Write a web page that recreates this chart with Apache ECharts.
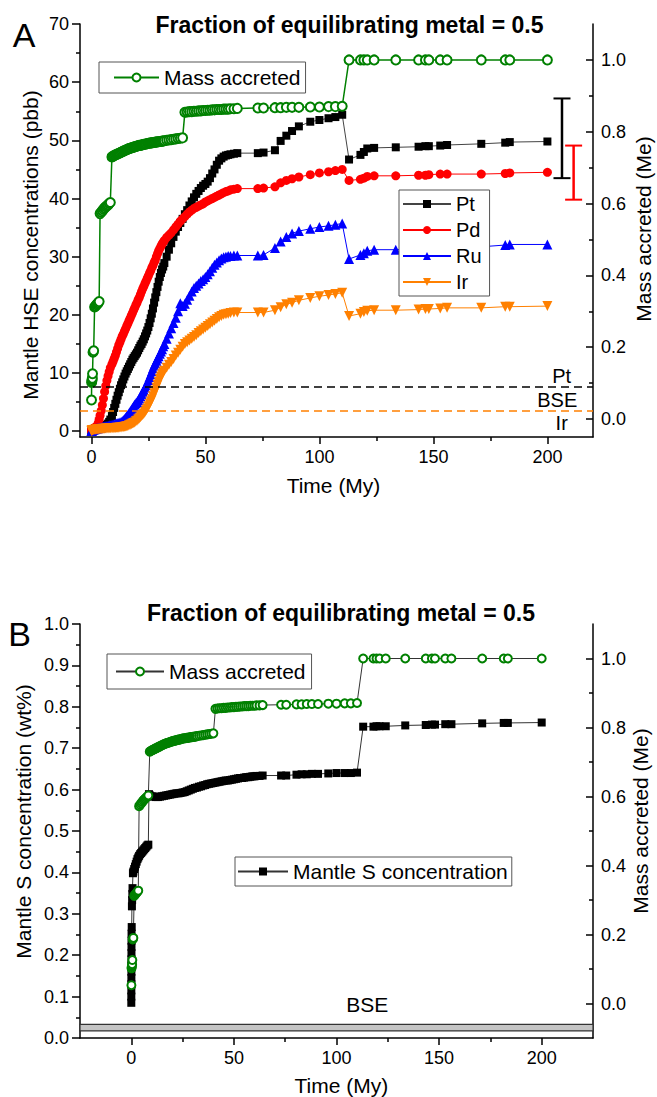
<!DOCTYPE html>
<html><head><meta charset="utf-8">
<script src="https://cdn.jsdelivr.net/npm/echarts@6/dist/echarts.min.js"></script>
<style>html,body{margin:0;padding:0;background:#fff}#c{width:657px;height:1097px}</style>
</head><body><div id="c"></div>
<script>
// ---------- DATA ----------
// Shared time steps of the accretion model (My)
const time = [
 0.05,0.1,0.2,0.3,0.4,0.5,0.7,1.0,1.4,1.8,2.2,2.6,3.0,3.4,
 3.8,4.3,4.8,5.3,5.8,6.3,6.8,7.3,7.8,8.3,
 9,9.5,10,10.5,11,11.5,12,12.5,13,13.5,14,14.5,15,15.5,16,16.5,17,17.5,18,18.5,19,19.5,20,20.5,21,21.5,22,22.5,23,23.5,24,24.5,25,25.5,26,26.5,27,27.5,28,28.5,29,29.5,30,30.5,31,31.5,32,
 33,34,35,36,37,38,39,40,41,42,43,44,45,46,47,48,49,50,51,52,53,54,55,56,57,58,59,60,61,62.5,64,
 73,75.5,80.5,83,85.5,88,91,96,100,104,107,110,
 113,118,119.5,121,124,133.5,143.5,146.5,148,153,156,171,181.5,183.5,200
];
// Mass accreted (Me)
const massAccreted = [
 0.053,0.102,0.106,0.110,0.114,0.126,0.186,0.190,0.312,0.315,0.318,0.321,0.324,0.327,
 0.572,0.576,0.580,0.584,0.588,0.591,0.594,0.597,0.600,0.603,
 0.730,0.732,0.734,0.735,0.737,0.738,0.740,0.741,0.743,0.744,0.746,0.747,0.749,0.750,0.752,0.753,0.754,0.755,0.756,0.757,0.758,0.759,0.760,0.761,0.762,0.762,0.763,0.764,0.765,0.765,0.766,0.767,0.768,0.768,0.769,0.769,0.770,0.770,0.771,0.771,0.772,0.772,0.773,0.773,0.774,0.774,0.775,
 0.776,0.777,0.778,0.779,0.780,0.781,0.782,0.783,0.854,0.855,0.856,0.856,0.857,0.857,0.858,0.858,0.859,0.859,0.860,0.860,0.861,0.861,0.862,0.862,0.862,0.863,0.863,0.863,0.864,0.864,0.865,
 0.866,0.866,0.867,0.867,0.868,0.868,0.868,0.869,0.869,0.870,0.870,0.871,
 1.0,1.0,1.0,1.0,1.0,1.0,1.0,1.0,1.0,1.0,1.0,1.0,1.0,1.0,1.0
];
// Mantle HSE concentrations (ppb)
const pt = [
 0.1,0.15,0.2,0.2,0.25,0.3,0.3,0.35,0.4,0.45,0.5,0.5,0.55,0.6,
 0.7,0.75,0.8,0.85,0.9,1.0,1.1,1.3,1.6,2.0,
 2.6,3.3,4.0,4.7,5.4,6.1,6.7,7.3,7.9,8.4,8.9,9.4,9.9,10.3,10.7,11.1,11.5,11.9,12.3,12.6,12.9,13.2,13.5,13.9,14.3,14.7,15.0,15.4,15.8,16.3,16.8,17.3,17.9,18.6,19.4,20.2,21.1,22.1,23.0,23.9,24.8,25.7,26.5,27.2,27.8,28.3,28.9,
 30.0,31.2,32.3,33.4,34.3,35.1,35.8,36.5,37.3,38.0,38.8,39.5,40.2,40.8,41.3,41.8,42.2,42.5,42.9,43.5,44.3,45.0,45.8,46.5,46.9,47.2,47.4,47.5,47.6,47.7,47.8,
 47.8,47.9,48.3,49.9,50.8,51.6,52.4,53.2,53.5,53.8,54.0,54.4,
 46.7,47.5,48.0,48.6,48.7,48.8,48.9,49.0,49.0,49.1,49.2,49.4,49.6,49.7,49.8
];
const pd = [
 0.1,0.15,0.2,0.25,0.3,0.35,0.4,0.5,0.6,0.7,0.8,1.0,1.4,2.0,
 2.7,3.5,4.5,5.6,6.8,7.8,8.7,9.5,10.2,10.9,
 11.5,12.0,12.5,13.0,13.6,14.2,14.8,15.3,15.8,16.3,16.7,17.2,17.6,18.1,18.5,19.0,19.4,19.9,20.3,20.8,21.2,21.7,22.1,22.6,23.0,23.5,24.0,24.5,24.9,25.4,25.8,26.3,26.7,27.2,27.6,28.1,28.5,29.0,29.4,30.0,30.5,31.0,31.4,31.8,32.2,32.5,32.8,
 33.3,33.7,34.1,34.6,35.1,35.6,36.1,36.5,36.9,37.3,37.7,38.0,38.3,38.5,38.7,38.9,39.1,39.4,39.6,39.8,40.0,40.2,40.4,40.6,40.8,41.0,41.2,41.3,41.5,41.6,41.7,
 41.7,41.8,42.0,42.7,43.1,43.4,43.7,44.1,44.4,44.6,44.8,45.0,
 43.1,43.3,43.5,43.8,43.9,43.9,44.0,44.0,44.1,44.2,44.2,44.2,44.3,44.4,44.5
];
const ru = [
 0.05,0.1,0.1,0.15,0.2,0.2,0.25,0.3,0.35,0.4,0.45,0.5,0.5,0.55,
 0.6,0.65,0.7,0.75,0.8,0.85,0.9,0.95,1.0,1.0,
 1.1,1.15,1.2,1.25,1.3,1.35,1.4,1.5,1.6,1.7,1.9,2.1,2.3,2.6,2.8,3.1,3.4,3.7,4.0,4.3,4.6,4.8,5.0,5.3,5.6,6.0,6.4,6.8,7.1,7.5,7.9,8.3,8.8,9.3,9.8,10.3,10.8,11.3,11.7,12.1,12.5,12.9,13.3,13.7,14.1,14.6,15.0,
 15.9,16.8,17.7,18.6,19.5,20.6,22.0,21.5,21.9,22.6,23.3,24.0,24.6,25.0,25.4,25.8,26.1,26.5,27.0,27.5,28.1,28.6,29.0,29.4,29.7,29.9,30.0,30.1,30.1,30.2,30.2,
 30.2,30.3,31.5,32.6,33.4,34.0,34.4,34.8,35.1,35.3,35.5,35.7,
 29.6,30.3,30.6,31.0,31.2,31.2,31.3,31.3,31.4,31.5,31.6,31.7,32.0,32.1,32.1
];
const ir = [
 0.05,0.1,0.1,0.1,0.15,0.15,0.2,0.2,0.25,0.25,0.3,0.3,0.3,0.35,
 0.35,0.35,0.4,0.4,0.4,0.45,0.45,0.45,0.5,0.5,
 0.5,0.5,0.55,0.55,0.6,0.6,0.6,0.65,0.65,0.7,0.7,0.75,0.8,0.85,0.9,1.0,1.1,1.2,1.3,1.4,1.5,1.7,1.8,2.0,2.2,2.4,2.6,2.8,3.0,3.3,3.6,3.9,4.3,4.7,5.1,5.5,6.0,6.5,7.0,7.5,8.0,8.5,9.0,9.4,9.8,10.1,10.4,
 10.9,11.4,11.9,12.4,13.0,13.5,14.0,14.5,15.0,15.3,15.6,15.9,16.2,16.5,16.9,17.2,17.5,17.8,18.1,18.4,18.7,19.0,19.3,19.6,19.8,20.0,20.1,20.2,20.3,20.4,20.4,
 20.4,20.4,20.8,21.3,21.8,22.1,22.5,22.9,23.2,23.4,23.6,23.8,
 19.8,20.2,20.5,20.7,20.8,20.8,20.9,21.0,21.0,21.1,21.2,21.2,21.4,21.4,21.5
];
// BSE reference levels (ppb) and error bars
const bsePt = 7.7, bseIr = 3.5;
const errorBarTime = [206.4, 211.5];
const errorBarLow = [43.5, 39.8];
const errorBarHigh = [57.2, 49.1];

// Panel B: mantle S concentration (wt%)
const sTime = [
 0,0.01,0.02,0.03,0.04,0.05,0.06,0.07,0.08,0.09,0.1,0.12,0.2,
 0.3,0.4,0.5,0.6,
 0.8,1.0,1.4,1.8,2.2,2.6,3.0,3.4,3.8,4.3,4.8,5.3,5.8,6.3,6.8,7.3,7.8,8.3,
 8.6,
 9,10,11,12,13,14,15,16,17,18,19,20,21,22,23,24,25,26,27,28,29,30,31,32,33,34,35,36,37,38,39,40,
 41,42,43,44,45,46,47,48,49,50,51,52,53,54,55,56,57,58,59,60,61,62.5,64,
 73,75.5,80.5,83,85.5,88,91,96,100,104,107,110,
 113,118,119.5,121,124,133.5,143.5,146.5,148,153,156,171,181.5,183.5,200
];
const sConc = [
 0.085,0.100,0.115,0.130,0.145,0.160,0.175,0.190,0.205,0.220,0.235,0.252,0.268,
 0.318,0.333,0.348,0.362,
 0.398,0.402,0.408,0.414,0.420,0.426,0.432,0.436,0.440,0.444,0.447,0.450,0.453,0.456,0.459,0.462,0.465,0.467,
 0.589,
 0.586,0.584,0.583,0.582,0.582,0.583,0.584,0.585,0.586,0.587,0.588,0.589,0.590,0.591,0.591,0.592,0.593,0.594,0.596,0.598,0.600,0.602,0.604,0.605,0.607,0.608,0.610,0.611,0.613,0.614,0.615,0.616,
 0.617,0.618,0.619,0.620,0.621,0.622,0.622,0.623,0.624,0.625,0.626,0.627,0.628,0.628,0.629,0.630,0.630,0.631,0.632,0.632,0.633,0.633,0.634,
 0.634,0.634,0.636,0.637,0.637,0.638,0.638,0.639,0.640,0.640,0.640,0.641,
 0.752,0.752,0.753,0.753,0.753,0.755,0.756,0.757,0.757,0.758,0.758,0.760,0.761,0.761,0.762
];
const bseS = [0.017, 0.033];

// Tick labels
const xMajorTicks = [0, 50, 100, 150, 200];
const xMinorTicks = [25, 75, 125, 175];
const hseTicks = [0, 10, 20, 30, 40, 50, 60, 70];
const hseMinorTicks = [5, 15, 25, 35, 45, 55, 65];
const massTicks = [0, 0.2, 0.4, 0.6, 0.8, 1.0];
const massMinorTicks = [0.1, 0.3, 0.5, 0.7, 0.9];

// ---------- CHART ----------
const FONT = '"Liberation Sans", Arial, Helvetica, sans-serif';
const TICK_FS = 18;
const pairs = (xs, ys) => xs.map((x, i) => [x, ys[i]]);
const AX = {color: '#000', width: 1.5};

function xMain(grid, min, max) {
  return {type: 'value', gridIndex: grid, min, max, position: 'bottom',
    axisLine: {show: true, onZero: false, lineStyle: AX},
    axisTick: {show: true, customValues: xMajorTicks, length: 7, lineStyle: AX},
    axisLabel: {customValues: xMajorTicks, fontSize: TICK_FS, color: '#000', margin: 11, fontFamily: FONT},
    splitLine: {show: false}};
}
function xMinor(grid, min, max) {
  return {type: 'value', gridIndex: grid, min, max, position: 'bottom',
    axisLine: {show: false, onZero: false},
    axisTick: {show: true, customValues: xMinorTicks, length: 4, lineStyle: AX},
    axisLabel: {show: false}, splitLine: {show: false}};
}
function yAx(grid, min, max, pos, ticks, showLabel, len, inside, fmt, margin, line) {
  return {type: 'value', gridIndex: grid, min, max, position: pos,
    axisLine: {show: line, onZero: false, lineStyle: AX},
    axisTick: {show: true, inside, customValues: ticks, length: len, lineStyle: AX},
    axisLabel: showLabel ? {customValues: ticks, fontSize: TICK_FS, color: '#000', margin, fontFamily: FONT, formatter: fmt} : {show: false},
    splitLine: {show: false}};
}
const f0 = v => String(Math.round(v));
const f1 = v => (+v).toFixed(1);

function lineSeries(name, xs, ys, xi, yi, symbol, size, color, lineColor, extra) {
  return Object.assign({
    name, type: 'line', xAxisIndex: xi, yAxisIndex: yi, data: pairs(xs, ys),
    symbol, symbolSize: size, showSymbol: true, showAllSymbol: true,
    itemStyle: {color}, lineStyle: {color: lineColor, width: 1},
    emphasis: {disabled: true}, silent: true
  }, extra || {});
}

const errColors = ['#000000', '#ff0000'];

const series = [
  lineSeries('Pt', time, pt, 0, 0, 'rect', 8, '#000000', '#444444', {
    markLine: {silent: true, symbol: ['none', 'none'], label: {show: false},
      lineStyle: {color: '#000', type: [8, 5], width: 1.5}, data: [{yAxis: bsePt}]}
  }),
  lineSeries('Pd', time, pd, 0, 0, 'circle', 9, '#ff0000', '#ff0000'),
  lineSeries('Ru', time, ru, 0, 0, 'triangle', 10, '#0000ff', '#0000ff'),
  lineSeries('Ir', time, ir, 0, 0, 'triangle', 10, '#ff8000', '#ff8000', {
    symbolRotate: 180,
    markLine: {silent: true, symbol: ['none', 'none'], label: {show: false},
      lineStyle: {color: '#ff8000', type: [8, 5], width: 1.5}, data: [{yAxis: bseIr}]}
  }),
  lineSeries('Mass accreted', time, massAccreted, 0, 1, 'emptyCircle', 9, '#008000', '#008000', {
    itemStyle: {color: '#008000', borderWidth: 1.6}, lineStyle: {color: '#008000', width: 1.5}
  }),
  {
    type: 'custom', xAxisIndex: 0, yAxisIndex: 0, silent: true,
    data: errorBarTime.map((t, i) => [t, errorBarLow[i], errorBarHigh[i]]),
    renderItem: function (params, api) {
      const x = api.value(0);
      const lo = api.coord([x, api.value(1)]);
      const hi = api.coord([x, api.value(2)]);
      const c = errColors[params.dataIndex];
      const hw = 8.5;
      return {type: 'group', children: [
        {type: 'line', shape: {x1: lo[0], y1: lo[1], x2: hi[0], y2: hi[1]}, style: {stroke: c, lineWidth: 2.5}},
        {type: 'line', shape: {x1: lo[0] - hw, y1: lo[1], x2: lo[0] + hw, y2: lo[1]}, style: {stroke: c, lineWidth: 2}},
        {type: 'line', shape: {x1: hi[0] - hw, y1: hi[1], x2: hi[0] + hw, y2: hi[1]}, style: {stroke: c, lineWidth: 2}}
      ]};
    }
  },
  lineSeries('Mantle S concentration', sTime, sConc, 2, 4, 'rect', 8, '#000000', '#333333', {
    markArea: {silent: true, itemStyle: {color: '#c4c4c4', borderColor: '#333', borderWidth: 1.2},
      label: {show: false}, data: [[{yAxis: bseS[0]}, {yAxis: bseS[1]}]]}
  }),
  lineSeries('Mass accreted B', time, massAccreted, 2, 5, 'emptyCircle', 8, '#008000', '#333333', {
    itemStyle: {color: '#008000', borderWidth: 2}, lineStyle: {color: '#333333', width: 1}
  })
];

function legendBox(data, left, top, orient, itemWidth, padding, fontSize, extra) {
  return Object.assign({
    data, left, top, orient, itemWidth, itemHeight: 10, padding, itemGap: 6,
    borderColor: '#555', borderWidth: 1, backgroundColor: '#fff', selectedMode: false,
    textStyle: {fontSize, color: '#000', fontFamily: FONT}, z: 10
  }, extra || {});
}

function txt(text, x, y, size, opts) {
  opts = opts || {};
  return {type: 'text', x, y, rotation: opts.rot || 0, z: 100,
    style: {text, fontSize: size, fontFamily: FONT, fontWeight: opts.bold ? 'bold' : 'normal',
      fill: '#000', textAlign: 'center', textVerticalAlign: 'middle'}};
}

const TITLE = 'Fraction of equilibrating metal = 0.5';
const option = {
  animation: false,
  backgroundColor: '#fff',
  textStyle: {fontFamily: FONT, color: '#000'},
  grid: [
    {left: 80, top: 24, width: 513, height: 413, containLabel: false, outerBoundsMode: 'none'},
    {left: 80, top: 624, width: 513, height: 414, containLabel: false, outerBoundsMode: 'none'}
  ],
  xAxis: [xMain(0, -5, 220), xMinor(0, -5, 220), xMain(1, -25, 225), xMinor(1, -25, 225)],
  yAxis: [
    yAx(0, -1, 70, 'left', hseTicks, true, 8, false, f0, 11, true),
    yAx(0, -0.05, 1.1, 'right', massTicks, true, 7, true, f1, 8, true),
    yAx(0, -1, 70, 'left', hseMinorTicks, false, 4, false, null, 0, false),
    yAx(0, -0.05, 1.1, 'right', massMinorTicks, false, 4, true, null, 0, false),
    {type: 'value', gridIndex: 1, min: 0, max: 1, interval: 0.1, position: 'left',
      axisLine: {show: true, onZero: false, lineStyle: AX},
      axisTick: {show: true, length: 8, lineStyle: AX},
      minorTick: {show: true, splitNumber: 2, length: 4, lineStyle: AX},
      axisLabel: {fontSize: TICK_FS, color: '#000', margin: 11, fontFamily: FONT, formatter: f1},
      splitLine: {show: false}, minorSplitLine: {show: false}},
    yAx(1, -0.1, 1.1, 'right', massTicks, true, 7, true, f1, 8, true),
    yAx(1, -0.1, 1.1, 'right', massMinorTicks, false, 4, true, null, 0, false)
  ],
  legend: [
    legendBox(['Mass accreted'], 99, 62, 'horizontal', 45, [5, 5, 5, 14], 21),
    legendBox(['Pt', 'Pd', 'Ru', 'Ir'], 399, 190, 'vertical', 48, [4, 8, 4, 3], 20),
    legendBox(['Mass accreted B'], 107, 654, 'horizontal', 48, [7, 6, 7, 8], 21, {formatter: () => 'Mass accreted'}),
    legendBox(['Mantle S concentration'], 235, 857, 'horizontal', 50, [4, 4, 4, 2], 21)
  ],
  series,
  graphic: {elements: [
    txt('A', 24, 35, 34),
    txt('B', 19.5, 634, 34),
    txt(TITLE, 349.5, 25, 23, {bold: true}),
    txt(TITLE, 341, 613, 23, {bold: true}),
    txt('Mantle HSE concentrations (pbb)', 30, 245, 21, {rot: Math.PI / 2}),
    txt('Mass accreted (Me)', 643, 229, 21, {rot: Math.PI / 2}),
    txt('Time (My)', 333.5, 485, 21),
    txt('Pt', 561.7, 376, 20),
    txt('BSE', 557.3, 399.5, 20),
    txt('Ir', 561.7, 423, 20),
    txt('Mantle S concentration (wt%)', 23.5, 821.5, 21, {rot: Math.PI / 2}),
    txt('Mass accreted (Me)', 640, 821, 21, {rot: Math.PI / 2}),
    txt('Time (My)', 341.3, 1085, 21),
    txt('BSE', 367.2, 1004, 21)
  ]}
};

const chart = echarts.init(document.getElementById('c'), null, {renderer: 'svg', width: 657, height: 1097});
chart.setOption(option);
</script>
</body></html>
